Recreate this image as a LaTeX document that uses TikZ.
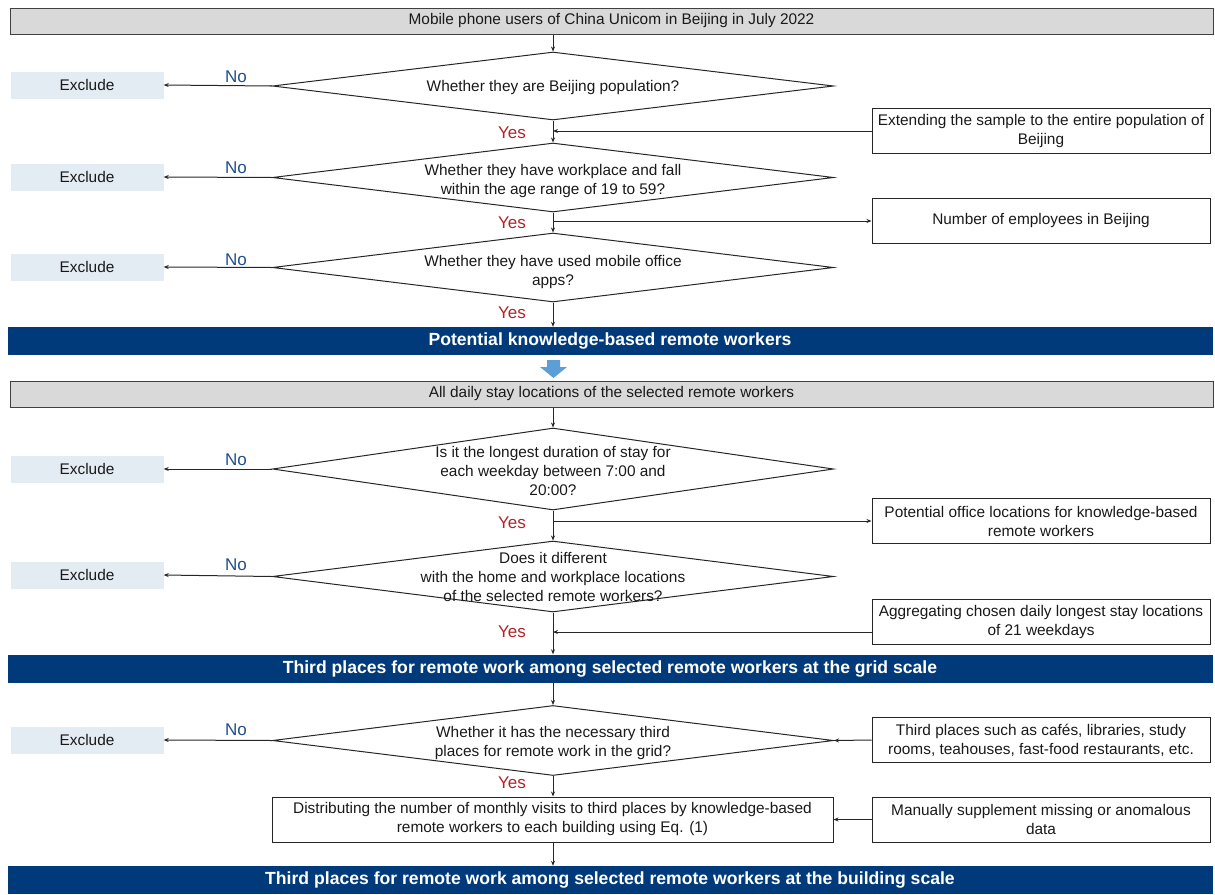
\documentclass[tikz,border=0pt]{standalone}
\usepackage{fontspec}
\setmainfont{Liberation Sans}
\usetikzlibrary{shapes.geometric,arrows.meta}
\definecolor{barblue}{HTML}{003A7A}
\definecolor{graybar}{HTML}{D9D9D9}
\definecolor{exfill}{HTML}{E3EBF3}
\definecolor{nocol}{HTML}{1F4E8C}
\definecolor{yescol}{HTML}{B0242A}
\definecolor{fatarrow}{HTML}{5B9FD6}
\begin{document}
\begin{tikzpicture}[x=1pt,y=-1pt,
  txt/.style={font=\fontsize{15.4}{19}\selectfont, align=center, inner sep=0pt, text=black!90},
  ln/.style={draw=black!85, line width=1pt},
  arr/.style={ln, -{Stealth[length=5pt,width=4pt]}},
  dia/.style={diamond, ln, minimum width=561pt, inner sep=0pt},
  exc/.style={txt, fill=exfill, minimum width=153pt, minimum height=27pt},
  rbox/.style={txt, ln, minimum width=338pt, minimum height=45pt},
  gbar/.style={txt, fill=graybar, draw=black!75, line width=1pt, minimum width=1203pt, minimum height=26pt},
  bbar/.style={fill=barblue, text=white, font=\fontsize{17.6}{20}\selectfont\bfseries, minimum width=1205pt, minimum height=28pt, inner sep=0pt},
  nolab/.style={font=\fontsize{17}{20}\selectfont, text=nocol, inner sep=0pt},
  yeslab/.style={font=\fontsize{17}{20}\selectfont, text=yescol, inner sep=0pt}
]
\useasboundingbox (0,0) rectangle (1215,894);

% ---------- section 1 ----------
\node[gbar] (g1) at (611.5,21) {Mobile phone users of China Unicom in Beijing in July 2022};

\node[dia, minimum height=68pt] (d1) at (553,86) {};
\node[txt] (d1t) at (553,88) {Whether they are Beijing population?};
\node[exc] (e1) at (87,85) {Exclude};
\node[nolab] (n1) at (236,77) {No};
\node[yeslab] (y1) at (512,133) {Yes};
\node[rbox] (r1) at (1041,131) {Extending the sample to the entire population of\\Beijing};

\node[dia, minimum height=69pt] (d2) at (553,177.5) {};
\node[txt] (d2t) at (553,181) {Whether they have workplace and fall\\within the age range of 19 to 59?};
\node[exc] (e2) at (87,177) {Exclude};
\node[nolab] (n2) at (236,168) {No};
\node[yeslab] (y2) at (512,223) {Yes};
\node[rbox] (r2) at (1041,221) {Number of employees in Beijing};

\node[dia, minimum height=69pt] (d3) at (553,267.5) {};
\node[txt] (d3t) at (553,272) {Whether they have used mobile office\\apps?};
\node[exc] (e3) at (87,267) {Exclude};
\node[nolab] (n3) at (236,260) {No};
\node[yeslab] (y3) at (512,313) {Yes};

\node[bbar] (b1) at (610,341) {Potential knowledge-based remote workers};

% ---------- section 2 ----------
\fill[fatarrow] (547,360) -- (560,360) -- (560,367) -- (567,367) -- (553.5,378) -- (540,367) -- (547,367) -- cycle;

\node[gbar] (g2) at (611.5,394) {All daily stay locations of the selected remote workers};

\node[dia, minimum height=82pt] (d4) at (553,469) {};
\node[txt] (d4t) at (553,471) {Is it the longest duration of stay for\\each weekday between 7:00 and\\20:00?};
\node[exc] (e4) at (87,469) {Exclude};
\node[nolab] (n4) at (236,460) {No};
\node[yeslab] (y4) at (512,523) {Yes};
\node[rbox] (r4) at (1041,521) {Potential office locations for knowledge-based\\remote workers};

\node[dia, minimum height=71pt] (d5) at (553,576.5) {};
\node[txt] (d5t) at (553,577) {Does it different\\with the home and workplace locations\\of the selected remote workers?};
\node[exc] (e5) at (87,575) {Exclude};
\node[nolab] (n5) at (236,565) {No};
\node[yeslab] (y5) at (512,632) {Yes};
\node[rbox] (r5) at (1041,622) {Aggregating chosen daily longest stay locations\\of 21 weekdays};

\node[bbar] (b2) at (610,668.5) {Third places for remote work among selected remote workers at the grid scale};

% ---------- section 3 ----------
\node[dia, minimum height=70pt] (d6) at (553,740.5) {};
\node[txt] (d6t) at (553,743) {Whether it has the necessary third\\places for remote work in the grid?};
\node[exc] (e6) at (87,740) {Exclude};
\node[nolab] (n6) at (236,730) {No};
\node[yeslab] (y6) at (512,783) {Yes};
\node[rbox] (r6) at (1041,740) {Third places such as caf\'es, libraries, study\\rooms, teahouses, fast-food restaurants, etc.};

\node[rbox, minimum width=561pt] (dist) at (552.5,819.5) {Distributing the number of monthly visits to third places by knowledge-based\\remote workers to each building using Eq. (1)};
\node[rbox] (r7) at (1041,819.5) {Manually supplement missing or anomalous\\data};

\node[bbar] (b3) at (610,880) {Third places for remote work among selected remote workers at the building scale};

% ---------- connectors ----------
\draw[arr] (g1.south -| d1.north) -- (d1.north);
\draw[arr] (d1.west) -- (e1.east);
\draw[arr] (d1.south) -- (d2.north);
\draw[arr] (r1.west) -- (r1.west -| d1.south);

\draw[arr] (d2.west) -- (e2.east);
\draw[arr] (d2.south) -- (d3.north);
\draw[arr] (r2.west -| d2.south) -- (r2.west);

\draw[arr] (d3.west) -- (e3.east);
\draw[arr] (d3.south) -- (d3.south |- b1.north);

\draw[arr] (g2.south -| d4.north) -- (d4.north);
\draw[arr] (d4.west) -- (e4.east);
\draw[arr] (d4.south) -- (d5.north);
\draw[arr] (r4.west -| d4.south) -- (r4.west);

\draw[arr] (d5.west) -- (e5.east);
\draw[arr] (d5.south) -- (d5.south |- b2.north);
\coordinate (r5in) at ([yshift=-10pt]r5.west);
\draw[arr] (r5in) -- (r5in -| d5.south);

\draw[arr] (b2.south -| d6.north) -- (d6.north);
\draw[arr] (d6.west) -- (e6.east);
\draw[arr] (r6.west) -- (d6.east);
\draw[arr] (d6.south) -- (d6.south |- dist.north);
\draw[arr] (r7.west) -- (dist.east);
\draw[arr] (dist.south -| d6.south) -- (b3.north -| d6.south);
\end{tikzpicture}
\end{document}
